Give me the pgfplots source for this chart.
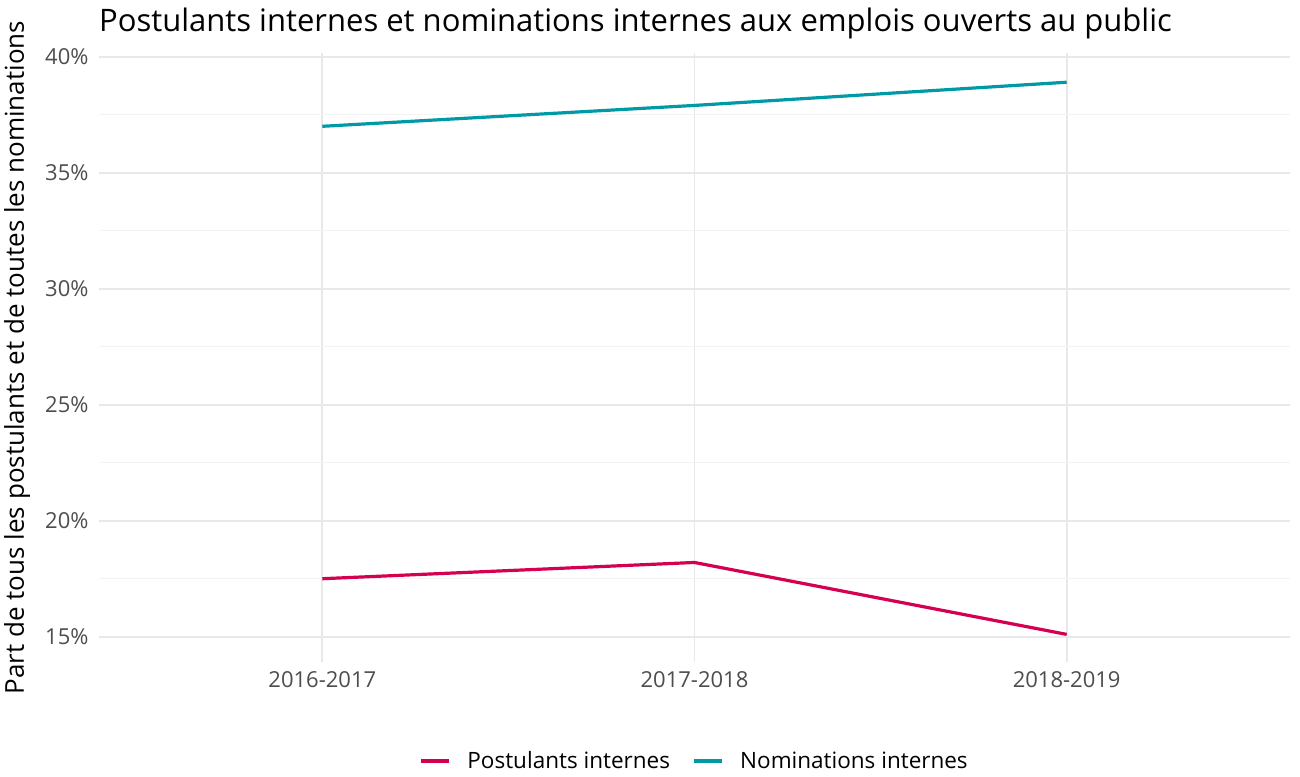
\documentclass[border=0pt]{standalone}
\usepackage{fontspec}
\setmainfont{Open Sans}
\usepackage{pgfplots}
\pgfplotsset{compat=1.18}
\definecolor{postcol}{HTML}{D5004F}
\definecolor{nomcol}{HTML}{009AA6}
\definecolor{gridmaj}{HTML}{E8E8E8}
\definecolor{gridmin}{HTML}{F3F3F3}
\definecolor{tickgray}{HTML}{4D4D4D}
\begin{document}
\begin{tikzpicture}
\path[use as bounding box] (-99pt,-114pt) rectangle (1201pt,662pt);
\begin{axis}[
  scale only axis, width=1191pt, height=609pt,
  xmin=-0.6, xmax=2.6, ymin=13.91, ymax=40.16,
  axis line style={draw=none}, tick style={draw=none},
  xtick={0,1,2}, xticklabels={2016-2017,2017-2018,2018-2019},
  ytick={15,20,...,40}, yticklabel={\pgfmathprintnumber{\tick}\%},
  minor ytick={17.5,22.5,...,37.5},
  xmajorgrids, ymajorgrids, yminorgrids,
  major grid style={color=gridmaj, line width=1.8pt},
  minor grid style={color=gridmin, line width=0.9pt},
  ticklabel style={font=\fontsize{22}{26}\selectfont, color=tickgray},
  yticklabel style={xshift=-7pt},
  xticklabel style={yshift=-6pt},
  /pgf/number format/assume math mode=true,
  title={Postulants internes et nominations internes aux emplois ouverts au public},
  every axis title/.style={at={(axis description cs:0,1)}, anchor=base west, inner sep=0pt, yshift=21pt, font=\fontsize{31}{36}\selectfont},
  ylabel={Part de tous les postulants et de toutes les nominations},
  every axis y label/.style={at={(axis description cs:-0.0688,0.5)}, rotate=90, anchor=center, font=\fontsize{26}{30}\selectfont},
  legend columns=2,
  legend style={at={(axis description cs:0.5,0)}, anchor=center, yshift=-99pt, draw=none, font=\fontsize{22.5}{26}\selectfont,
    /tikz/every odd column/.append style={column sep=15pt},
    /tikz/every even column/.append style={column sep=20pt}},
  legend image code/.code={\draw[#1] (0pt,0pt) -- (28pt,0pt);},
]
\addplot[postcol, line width=3.2pt] coordinates {(0,17.5) (1,18.2) (2,15.1)};
\addlegendentry{Postulants internes}
\addplot[nomcol, line width=3.2pt] coordinates {(0,37.0) (1,37.9) (2,38.9)};
\addlegendentry{Nominations internes}
\end{axis}
\end{tikzpicture}
\end{document}
